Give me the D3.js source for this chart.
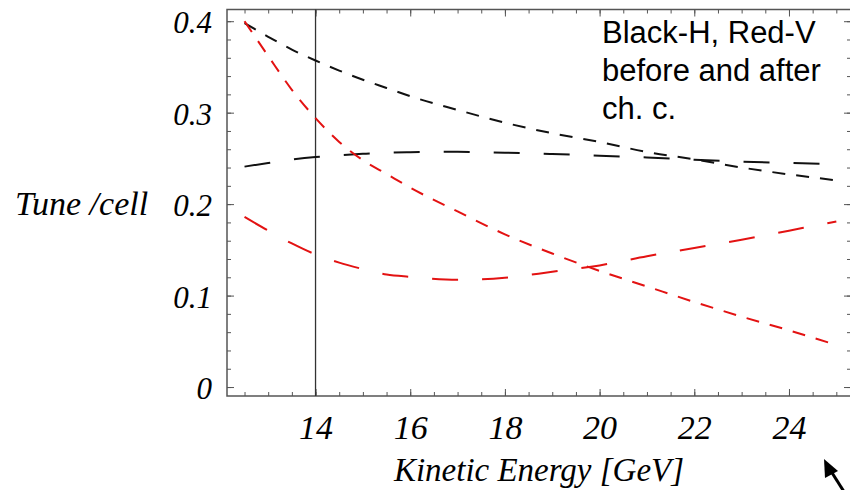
<!DOCTYPE html>
<html>
<head>
<meta charset="utf-8">
<script src="https://cdn.jsdelivr.net/npm/d3@7"></script>
<style>
  body { margin: 0; background: #fff; }
  svg { display: block; }
</style>
</head>
<body>
<div id="chart"></div>
<script>
// tune per cell vs kinetic energy, H (black) and V (red), before / after ch. c.

var energy = [12.5, 13, 13.5, 14, 14.5, 15, 15.5, 16, 17, 18, 19, 20, 21, 22, 23, 24, 25];

var blackShort = [0.398, 0.383, 0.369, 0.357, 0.346, 0.336, 0.327, 0.318, 0.303, 0.289, 0.2775, 0.268, 0.257, 0.249, 0.240, 0.2325, 0.226];
var blackLong  = [0.241, 0.245, 0.2487, 0.2515, 0.2535, 0.255, 0.2562, 0.2568, 0.2572, 0.2562, 0.2548, 0.253, 0.251, 0.2485, 0.2465, 0.245, 0.2435];
var redShort   = [0.400, 0.362, 0.325, 0.294, 0.268, 0.248, 0.233, 0.218, 0.192, 0.167, 0.146, 0.127, 0.110, 0.093, 0.077, 0.062, 0.046];
var redLong    = [0.186, 0.171, 0.157, 0.145, 0.136, 0.129, 0.123, 0.1205, 0.1172, 0.1195, 0.126, 0.133, 0.143, 0.152, 0.161, 0.171, 0.181];

var xTicks = [14, 16, 18, 20, 22, 24];
var yTicks = [0, 0.1, 0.2, 0.3, 0.4];
var markerEnergy = 14;

var legendLines = ["Black-H, Red-V", "before and after", "ch. c."];

var width = 850, height = 490;
var frame = {left: 227, right: 851, top: 9.5, bottom: 396};

var x = d3.scaleLinear()
  .domain([12.13, 25.31])
  .range([frame.left, frame.right]);
var y = d3.scaleLinear()
  .domain([-0.0098, 0.4128])
  .range([frame.bottom, frame.top]);

var svg = d3.select("#chart").append("svg")
  .attr("width", width)
  .attr("height", height);

svg.append("rect")
  .attr("width", width)
  .attr("height", height)
  .attr("fill", "#fff");

// frame
svg.append("rect")
  .attr("x", frame.left)
  .attr("y", frame.top)
  .attr("width", frame.right - frame.left)
  .attr("height", frame.bottom - frame.top)
  .attr("fill", "none")
  .attr("stroke", "#555")
  .attr("stroke-width", 1.5);

var minorX = d3.range(12.5, 25.3, 0.5);
var minorY = d3.range(0, 0.41, 0.02);

function tickStyle(g) {
  g.select(".domain").remove();
  g.selectAll(".tick line").attr("stroke", "#555").attr("stroke-width", 1);
}

// minor ticks on all four sides
svg.append("g").attr("transform", "translate(0," + frame.bottom + ")")
  .call(d3.axisBottom(x).tickValues(minorX).tickSize(-4).tickFormat(""))
  .call(tickStyle);
svg.append("g").attr("transform", "translate(0," + frame.top + ")")
  .call(d3.axisTop(x).tickValues(minorX).tickSize(-4).tickFormat(""))
  .call(tickStyle);
svg.append("g").attr("transform", "translate(" + frame.left + ",0)")
  .call(d3.axisLeft(y).tickValues(minorY).tickSize(-4).tickFormat(""))
  .call(tickStyle);
svg.append("g").attr("transform", "translate(" + frame.right + ",0)")
  .call(d3.axisRight(y).tickValues(minorY).tickSize(-4).tickFormat(""))
  .call(tickStyle);

// major ticks with labels
var xAxis = svg.append("g").attr("transform", "translate(0," + frame.bottom + ")")
  .call(d3.axisBottom(x).tickValues(xTicks).tickSize(-7).tickPadding(19).tickFormat(String))
  .call(tickStyle);
xAxis.selectAll("text")
  .attr("fill", "#000")
  .style("font-family", "'Liberation Serif', 'Times New Roman', serif")
  .style("font-style", "italic")
  .style("font-size", "34px");

var yAxis = svg.append("g").attr("transform", "translate(" + frame.left + ",0)")
  .call(d3.axisLeft(y).tickValues(yTicks).tickSize(-7).tickPadding(15).tickFormat(String))
  .call(tickStyle);
yAxis.selectAll("text")
  .attr("fill", "#000")
  .attr("dy", "0.38em")
  .style("font-family", "'Liberation Serif', 'Times New Roman', serif")
  .style("font-style", "italic")
  .style("font-size", "31px");

svg.append("g").attr("transform", "translate(0," + frame.top + ")")
  .call(d3.axisTop(x).tickValues(xTicks).tickSize(-7).tickFormat(""))
  .call(tickStyle);
svg.append("g").attr("transform", "translate(" + frame.right + ",0)")
  .call(d3.axisRight(y).tickValues(yTicks).tickSize(-7).tickFormat(""))
  .call(tickStyle);

// vertical line at 14 GeV
svg.append("line")
  .attr("x1", x(markerEnergy))
  .attr("x2", x(markerEnergy))
  .attr("y1", frame.top)
  .attr("y2", frame.bottom)
  .attr("stroke", "#333")
  .attr("stroke-width", 1.3);

// curves
var series = [
  {values: blackShort, color: "#111", dash: "13,11"},
  {values: blackLong, color: "#111", dash: "26,24"},
  {values: redShort, color: "#e31212", dash: "13,11"},
  {values: redLong, color: "#e31212", dash: "26,24"}
];

var line = d3.line()
  .x(function(d) { return x(d[0]); })
  .y(function(d) { return y(d[1]); })
  .curve(d3.curveMonotoneX);

svg.selectAll(".curve")
  .data(series)
  .enter()
  .append("path")
  .attr("class", "curve")
  .attr("d", function(s) { return line(energy.map(function(e, i) { return [e, s.values[i]]; })); })
  .attr("fill", "none")
  .attr("stroke", function(s) { return s.color; })
  .attr("stroke-width", 2)
  .attr("stroke-dasharray", function(s) { return s.dash; });

// axis titles
svg.append("text")
  .attr("x", 15)
  .attr("y", 215)
  .style("font-family", "'Liberation Serif', 'Times New Roman', serif")
  .style("font-style", "italic")
  .style("font-size", "34px")
  .text("Tune /cell");

svg.append("text")
  .attr("x", 539)
  .attr("y", 481)
  .attr("text-anchor", "middle")
  .style("font-family", "'Liberation Serif', 'Times New Roman', serif")
  .style("font-style", "italic")
  .style("font-size", "33px")
  .text("Kinetic Energy [GeV]");

// legend note
svg.append("g").selectAll("text")
  .data(legendLines)
  .enter()
  .append("text")
  .attr("x", 602)
  .attr("y", function(d, i) { return 43 + i * 38; })
  .style("font-family", "'Liberation Sans', Arial, sans-serif")
  .style("font-size", "31px")
  .attr("fill", "#000")
  .text(function(d) { return d; });

// arrow in the bottom right corner
svg.append("line")
  .attr("x1", 848)
  .attr("y1", 498)
  .attr("x2", 829)
  .attr("y2", 468)
  .attr("stroke", "#000")
  .attr("stroke-width", 3);
svg.append("path")
  .attr("d", "M824,459 L838,471 L825,478 Z")
  .attr("fill", "#000");
</script>
</body>
</html>
